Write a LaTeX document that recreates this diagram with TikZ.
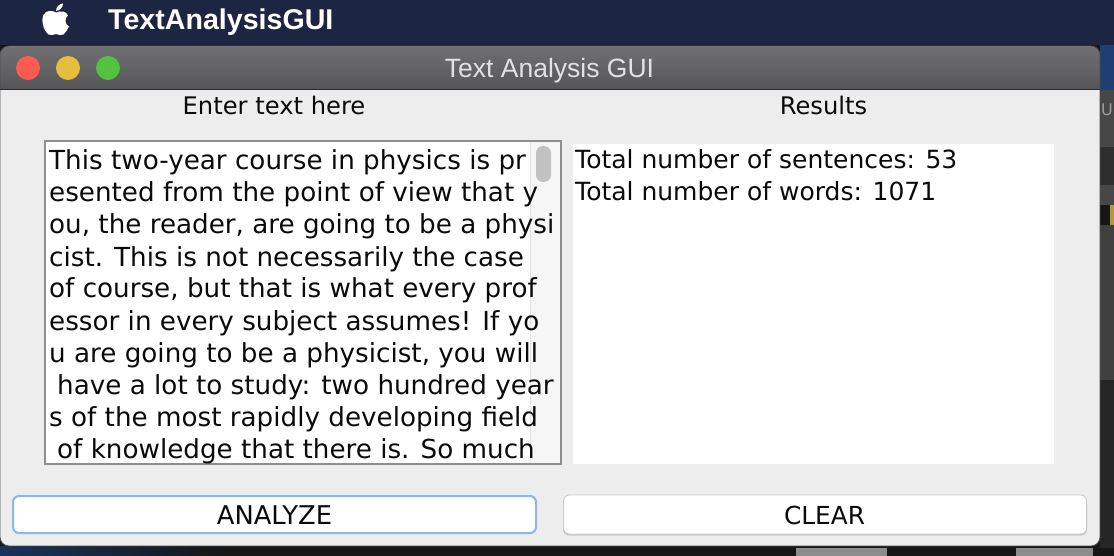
\documentclass[tikz,border=0pt]{standalone}
\usepackage{fontspec}
\setmainfont{DejaVu Sans}
\newfontfamily\arialfont{Liberation Sans}
\definecolor{menubar}{HTML}{1C2541}
\definecolor{deskdark}{HTML}{161616}
\definecolor{deskblue}{HTML}{1F3F73}
\definecolor{tbtop}{HTML}{707072}
\definecolor{tbbot}{HTML}{565658}
\definecolor{tbline}{HTML}{2A2A2A}
\definecolor{content}{HTML}{EDEDED}
\definecolor{titletext}{HTML}{E2E2E2}
\definecolor{redlight}{HTML}{FD5B52}
\definecolor{yellowlight}{HTML}{E6BE3F}
\definecolor{greenlight}{HTML}{52C23F}
\definecolor{framegray}{HTML}{8E8E8E}
\definecolor{scrolltrack}{HTML}{F6F6F6}
\definecolor{scrollline}{HTML}{E4E4E4}
\definecolor{thumbgray}{HTML}{C1C1C1}
\definecolor{btnblue}{HTML}{8AB6EC}
\definecolor{btngray}{HTML}{C9C9C9}
\definecolor{inktext}{HTML}{0A0A0A}
\tikzset{
  tline/.style={anchor=base west, inner sep=0pt, text=inktext, font=\fontsize{26.2}{32}\selectfont},
  rline/.style={anchor=base west, inner sep=0pt, text=inktext, font=\fontsize{25}{32}\selectfont},
  hlabel/.style={anchor=base, inner sep=0pt, text=inktext, font=\fontsize{24.2}{30}\selectfont},
  btntext/.style={anchor=base, inner sep=0pt, text=inktext},
  light/.style={circle, inner sep=0pt, minimum size=24pt}
}
\begin{document}
\begin{tikzpicture}[x=1pt,y=-1pt]
\useasboundingbox (0,0) rectangle (1114,556);
% desktop background
\fill[deskdark] (0,0) rectangle (1114,556);
\shade[left color=black!20!deskblue, right color=deskdark] (0,546) rectangle (220,556);
\fill[black!45] (796,548) rectangle (887,556);
\fill[black!45] (1016,548) rectangle (1093,556);
% right strip of desktop
\fill[deskblue] (1100,45) rectangle (1114,90);
\fill[black!72] (1100,90) rectangle (1114,147);
\fill[black!82] (1100,147) rectangle (1114,185);
\fill[black!72] (1100,185) rectangle (1114,205);
\fill[yellowlight!80!black] (1110,205) rectangle (1114,225);
\fill[black!75] (1100,225) rectangle (1114,380);
\fill[black!85] (1100,380) rectangle (1114,548);
\node[anchor=base west, inner sep=0pt, text=black!38, font=\fontsize{16}{20}\selectfont] (ufrag) at (1101,116) {U};
% menu bar
\fill[menubar] (0,0) rectangle (1114,45);
\fill[white] (56,12.5) .. controls (53,10.5) and (46,9.5) .. (43.5,15)
  .. controls (41,20) and (43,30) .. (48.5,34.5)
  .. controls (51,36.5) and (53,34) .. (56,34)
  .. controls (59,34) and (61,36.5) .. (63.5,34.5)
  .. controls (66,32) and (68,29) .. (69,26.5)
  .. controls (65,25) and (64,18) .. (68,15.5)
  .. controls (66,11) and (61,10.5) .. (56,12.5) -- cycle;
\fill[white] (56,11) .. controls (56,7) and (59,4) .. (63,3.5)
  .. controls (63,7.5) and (60,10.5) .. (56,11) -- cycle;
\node[anchor=base west, inner sep=0pt, text=white, font=\arialfont\bfseries\fontsize{28.6}{32}\selectfont] (app) at (108,30) {TextAnalysisGUI};
% window
\begin{scope}
  \clip[rounded corners=9pt] (0,46) rectangle (1100,546);
  \fill[content] (0,46) rectangle (1100,546);
  \shade[top color=tbtop, bottom color=tbbot] (0,46) rectangle (1100,89);
  \draw[black!45, line width=1pt] (0,46.5) -- (1100,46.5);
  \draw[tbline, line width=1.5pt] (0,89.5) -- (1100,89.5);
\end{scope}
\draw[black!70, line width=0.8pt, rounded corners=9pt] (0,46) rectangle (1100,546);
% traffic lights
\node[light, fill=redlight] (red) at (28,68) {};
\node[light, fill=yellowlight] (yellow) at (68,68) {};
\node[light, fill=greenlight] (green) at (108,68) {};
\node[anchor=base, inner sep=0pt, text=titletext, font=\arialfont\fontsize{26.5}{30}\selectfont] (title) at (549.5,77.5) {Text Analysis GUI};
% headings
\node[hlabel] (enterlbl) at (274,115) {Enter text here};
\node[hlabel] (reslbl) at (823.5,115) {Results};
% text area
\fill[white] (44,140) rectangle (562,465);
\fill[scrolltrack] (530,142) rectangle (560,463);
\draw[scrollline] (530.5,142) -- (530.5,463);
\fill[thumbgray, rounded corners=7pt] (536,146) rectangle (551,182);
\draw[framegray, line width=2pt] (45,141) rectangle (561,464);
\node[tline] (l1) at (49,170) {This two-year course in physics is pr};
\node[tline] (l2) at (49,202) {esented from the point of view that y};
\node[tline] (l3) at (49,234) {ou, the reader, are going to be a physi};
\node[tline] (l4) at (49,266) {cist. This is not necessarily the case};
\node[tline] (l5) at (49,298) {of course, but that is what every prof};
\node[tline] (l6) at (49,330) {essor in every subject assumes! If yo};
\node[tline] (l7) at (49,362) {u are going to be a physicist, you will};
\node[tline] (l8) at (57,394) {have a lot to study: two hundred year};
\node[tline] (l9) at (49,426) {s of the most rapidly developing field};
\node[tline] (l10) at (57,458) {of knowledge that there is. So much};
% results area
\fill[white] (573,144) rectangle (1054,464);
\node[rline] (r1) at (575,169) {Total number of sentences: 53};
\node[rline] (r2) at (575,201) {Total number of words: 1071};
% buttons
\fill[white, draw=btnblue, line width=2pt, rounded corners=6pt] (13,496) rectangle (536,533);
\node[btntext, font=\fontsize{25.8}{30}\selectfont] (analyze) at (274.5,524) {ANALYZE};
\fill[black!22, rounded corners=6pt] (563,496.5) rectangle (1087,535.5);
\fill[white, draw=btngray, line width=0.8pt, rounded corners=6pt] (563.5,495) rectangle (1086.5,534);
\node[btntext, font=\fontsize{24.8}{30}\selectfont] (clear) at (824.5,524) {CLEAR};
\end{tikzpicture}
\end{document}
